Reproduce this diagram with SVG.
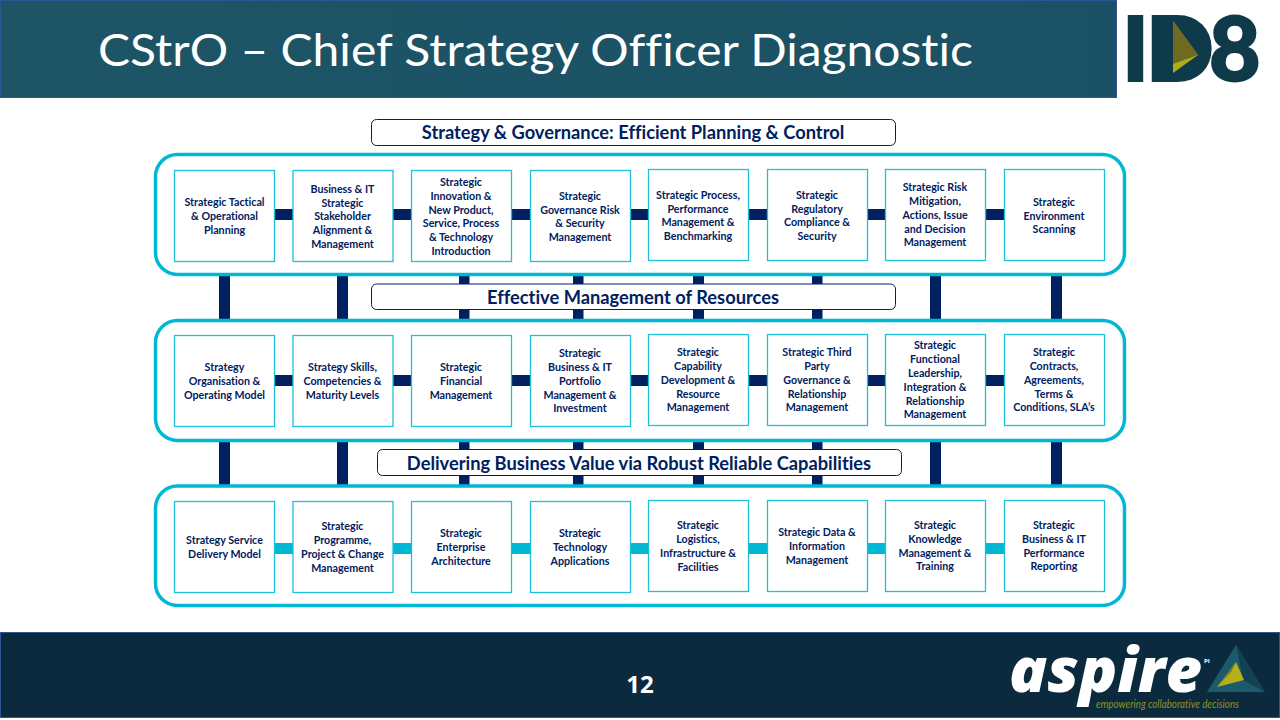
<svg xmlns="http://www.w3.org/2000/svg" width="1280" height="720" viewBox="0 0 1280 720">
<defs>
<linearGradient id="hd" x1="0" x2="1" y1="0" y2="0"><stop offset="0" stop-color="#1d5466"/><stop offset="1" stop-color="#1b5164"/></linearGradient>
</defs>
<style>
text{font-variant-ligatures:none}
.band{fill:#fff;stroke:#00b8d4;stroke-width:3.5}
.box{fill:#fff;stroke:#1fc0da;stroke-width:1.3;transform:translate(.5px,.5px)}
.cap{fill:#fff;stroke:#002060;stroke-width:1}
.t{font-family:"Lato","Liberation Sans",sans-serif;font-weight:700;font-size:10.7px;fill:#002060;text-anchor:middle}
.h{font-family:"Lato","Liberation Sans",sans-serif;font-weight:700;font-size:18.3px;fill:#002060;text-anchor:middle}
.v{fill:#002060}
.c{fill:#00b8d4}
</style>
<rect width="1280" height="720" fill="#fff"/>
<g id="header">
<rect x="0.5" y="0.5" width="1116" height="97" fill="url(#hd)" stroke="#2f5597"/>
<text x="98" y="66" font-family="Lato,'Open Sans',sans-serif" font-size="45" fill="#fff" textLength="875" lengthAdjust="spacingAndGlyphs">CStrO – Chief Strategy Officer Diagnostic</text>
</g>
<g id="logo-id8">
<text y="80.500" font-family="Lato,'Liberation Sans',sans-serif" font-weight="900" font-size="89" fill="#0f3a4a" stroke="#0f3a4a" stroke-width="2" x="1122 1146 1209">ID8</text>
<path d="M1165 22H1185Q1206 32 1206 50Q1206 70 1185 78H1165Z" fill="#0f3a4a"/>
<polygon points="1173,21 1198,55 1173,73" fill="#adad16"/>
<polygon points="1173,21 1198,55 1173,64" fill="#6f6a22"/>
</g>
<g id="connectors">
<rect class="v" x="219" y="274" width="11" height="46"/><rect class="v" x="337" y="274" width="11" height="46"/><rect class="v" x="459" y="274" width="10.500" height="46"/><rect class="v" x="573" y="274" width="10.500" height="46"/><rect class="v" x="693" y="274" width="11" height="46"/><rect class="v" x="812" y="274" width="10.500" height="46"/><rect class="v" x="930" y="274" width="11" height="46"/><rect class="v" x="1051" y="274" width="11" height="46"/>
<rect class="v" x="219" y="440" width="11" height="46"/><rect class="v" x="337" y="440" width="11" height="46"/><rect class="v" x="459" y="440" width="10.500" height="46"/><rect class="v" x="573" y="440" width="10.500" height="46"/><rect class="v" x="693" y="440" width="11" height="46"/><rect class="v" x="812" y="440" width="10.500" height="46"/><rect class="v" x="930" y="440" width="11" height="46"/><rect class="v" x="1051" y="440" width="11" height="46"/>
</g>
<g id="band-1"><rect class="band" x="155.500" y="154.500" width="969" height="120" rx="22"/></g>
<g id="band-2"><rect class="band" x="155.500" y="320.500" width="969" height="120" rx="22"/></g>
<g id="band-3"><rect class="band" x="155.500" y="486" width="969" height="119.500" rx="22"/></g>
<g id="links">
<rect class="v" x="274" y="209" width="19" height="11"/><rect class="v" x="393" y="209" width="18" height="11"/><rect class="v" x="511" y="209" width="19" height="11"/><rect class="v" x="630" y="209" width="18" height="11"/><rect class="v" x="748" y="209" width="19" height="11"/><rect class="v" x="867" y="209" width="18" height="11"/><rect class="v" x="985" y="209" width="19" height="11"/>
<rect class="v" x="274" y="375" width="19" height="11"/><rect class="v" x="393" y="375" width="18" height="11"/><rect class="v" x="511" y="375" width="19" height="11"/><rect class="v" x="630" y="375" width="18" height="11"/><rect class="v" x="748" y="375" width="19" height="11"/><rect class="v" x="867" y="375" width="18" height="11"/><rect class="v" x="985" y="375" width="19" height="11"/>
<rect class="c" x="274" y="543" width="19" height="11"/><rect class="c" x="393" y="543" width="18" height="11"/><rect class="c" x="511" y="543" width="19" height="11"/><rect class="c" x="630" y="543" width="18" height="11"/><rect class="c" x="748" y="543" width="19" height="11"/><rect class="c" x="867" y="543" width="18" height="11"/><rect class="c" x="985" y="543" width="19" height="11"/>
</g>
<g id="cap-1"><rect class="cap" x="371.500" y="119.500" width="524" height="26" rx="5"/><text class="h" x="633" y="139">Strategy &amp; Governance: Efficient Planning &amp; Control</text></g>
<g id="cap-2"><rect class="cap" x="371.500" y="284" width="524" height="25.500" rx="5"/><text class="h" x="633" y="303.500">Effective Management of Resources</text></g>
<g id="cap-3"><rect class="cap" x="377.500" y="449.500" width="524" height="26" rx="5"/><text class="h" x="639" y="469.500">Delivering Business Value via Robust Reliable Capabilities</text></g>

<g id="n1-1"><rect class="box" x="174" y="170" width="100" height="91"/><text class="t" x="224.500" y="206">Strategic Tactical</text><text class="t" x="224.500" y="220">&amp; Operational</text><text class="t" x="224.500" y="233.500">Planning</text></g>
<g id="n1-2"><rect class="box" x="292.500" y="170" width="100" height="91"/><text class="t" x="342.500" y="192.500">Business &amp; IT</text><text class="t" x="342.500" y="206.500">Strategic</text><text class="t" x="342.500" y="220">Stakeholder</text><text class="t" x="342.500" y="233.500">Alignment &amp;</text><text class="t" x="342.500" y="247.500">Management</text></g>
<g id="n1-3"><rect class="box" x="411" y="170" width="100" height="91"/><text class="t" x="461" y="185.500">Strategic</text><text class="t" x="461" y="199.500">Innovation &amp;</text><text class="t" x="461" y="213.500">New Product,</text><text class="t" x="461" y="227">Service, Process</text><text class="t" x="461" y="240.500">&amp; Technology</text><text class="t" x="461" y="254.500">Introduction</text></g>
<g id="n1-4"><rect class="box" x="530" y="170" width="100" height="91"/><text class="t" x="580" y="199.500">Strategic</text><text class="t" x="580" y="213.500">Governance Risk</text><text class="t" x="580" y="227">&amp; Security</text><text class="t" x="580" y="240.500">Management</text></g>
<g id="n1-5"><rect class="box" x="648" y="169" width="100" height="91"/><text class="t" x="698" y="198.500">Strategic Process,</text><text class="t" x="698" y="212.500">Performance</text><text class="t" x="698" y="226">Management &amp;</text><text class="t" x="698" y="239.500">Benchmarking</text></g>
<g id="n1-6"><rect class="box" x="767" y="169" width="100" height="91"/><text class="t" x="817" y="198.500">Strategic</text><text class="t" x="817" y="212.500">Regulatory</text><text class="t" x="817" y="226">Compliance &amp;</text><text class="t" x="817" y="239.500">Security</text></g>
<g id="n1-7"><rect class="box" x="885" y="169" width="100" height="91"/><text class="t" x="935" y="191">Strategic Risk</text><text class="t" x="935" y="205">Mitigation,</text><text class="t" x="935" y="219">Actions, Issue</text><text class="t" x="935" y="232.500">and Decision</text><text class="t" x="935" y="246">Management</text></g>
<g id="n1-8"><rect class="box" x="1004" y="169" width="100" height="91"/><text class="t" x="1054" y="205.500">Strategic</text><text class="t" x="1054" y="219.500">Environment</text><text class="t" x="1054" y="233">Scanning</text></g>

<g id="n2-1"><rect class="box" x="174" y="335" width="100" height="91"/><text class="t" x="224.500" y="371">Strategy</text><text class="t" x="224.500" y="385">Organisation &amp;</text><text class="t" x="224.500" y="398.500">Operating Model</text></g>
<g id="n2-2"><rect class="box" x="292.500" y="335" width="100" height="91"/><text class="t" x="342.500" y="371">Strategy Skills,</text><text class="t" x="342.500" y="385">Competencies &amp;</text><text class="t" x="342.500" y="398.500">Maturity Levels</text></g>
<g id="n2-3"><rect class="box" x="411" y="335" width="100" height="91"/><text class="t" x="461" y="371">Strategic</text><text class="t" x="461" y="385">Financial</text><text class="t" x="461" y="398.500">Management</text></g>
<g id="n2-4"><rect class="box" x="530" y="335" width="100" height="91"/><text class="t" x="580" y="357">Strategic</text><text class="t" x="580" y="371">Business &amp; IT</text><text class="t" x="580" y="385">Portfolio</text><text class="t" x="580" y="398.500">Management &amp;</text><text class="t" x="580" y="412">Investment</text></g>
<g id="n2-5"><rect class="box" x="648" y="334" width="100" height="91"/><text class="t" x="698" y="356">Strategic</text><text class="t" x="698" y="370">Capability</text><text class="t" x="698" y="384">Development &amp;</text><text class="t" x="698" y="397.500">Resource</text><text class="t" x="698" y="411">Management</text></g>
<g id="n2-6"><rect class="box" x="767" y="334" width="100" height="91"/><text class="t" x="817" y="356">Strategic Third</text><text class="t" x="817" y="370">Party</text><text class="t" x="817" y="384">Governance &amp;</text><text class="t" x="817" y="397.500">Relationship</text><text class="t" x="817" y="411">Management</text></g>
<g id="n2-7"><rect class="box" x="885" y="334" width="100" height="91"/><text class="t" x="935" y="349">Strategic</text><text class="t" x="935" y="363">Functional</text><text class="t" x="935" y="377">Leadership,</text><text class="t" x="935" y="391">Integration &amp;</text><text class="t" x="935" y="404.500">Relationship</text><text class="t" x="935" y="418">Management</text></g>
<g id="n2-8"><rect class="box" x="1004" y="334" width="100" height="91"/><text class="t" x="1054" y="356">Strategic</text><text class="t" x="1054" y="370">Contracts,</text><text class="t" x="1054" y="384">Agreements,</text><text class="t" x="1054" y="397.500">Terms &amp;</text><text class="t" x="1054" y="411">Conditions, SLA’s</text></g>

<g id="n3-1"><rect class="box" x="174" y="501" width="100" height="91"/><text class="t" x="224.500" y="544">Strategy Service</text><text class="t" x="224.500" y="558">Delivery Model</text></g>
<g id="n3-2"><rect class="box" x="292.500" y="501" width="100" height="91"/><text class="t" x="342.500" y="530">Strategic</text><text class="t" x="342.500" y="544">Programme,</text><text class="t" x="342.500" y="558">Project &amp; Change</text><text class="t" x="342.500" y="571.500">Management</text></g>
<g id="n3-3"><rect class="box" x="411" y="501" width="100" height="91"/><text class="t" x="461" y="537">Strategic</text><text class="t" x="461" y="551">Enterprise</text><text class="t" x="461" y="564.500">Architecture</text></g>
<g id="n3-4"><rect class="box" x="530" y="501" width="100" height="91"/><text class="t" x="580" y="537">Strategic</text><text class="t" x="580" y="551">Technology</text><text class="t" x="580" y="564.500">Applications</text></g>
<g id="n3-5"><rect class="box" x="648" y="500" width="100" height="91"/><text class="t" x="698" y="529">Strategic</text><text class="t" x="698" y="543">Logistics,</text><text class="t" x="698" y="557">Infrastructure &amp;</text><text class="t" x="698" y="570.500">Facilities</text></g>
<g id="n3-6"><rect class="box" x="767" y="500" width="100" height="91"/><text class="t" x="817" y="536">Strategic Data &amp;</text><text class="t" x="817" y="550">Information</text><text class="t" x="817" y="563.500">Management</text></g>
<g id="n3-7"><rect class="box" x="885" y="500" width="100" height="91"/><text class="t" x="935" y="529">Strategic</text><text class="t" x="935" y="543">Knowledge</text><text class="t" x="935" y="557">Management &amp;</text><text class="t" x="935" y="570">Training</text></g>
<g id="n3-8"><rect class="box" x="1004" y="500" width="100" height="91"/><text class="t" x="1054" y="529">Strategic</text><text class="t" x="1054" y="543">Business &amp; IT</text><text class="t" x="1054" y="556.500">Performance</text><text class="t" x="1054" y="570">Reporting</text></g>

<g id="footer">
<rect x="0.500" y="632.500" width="1279" height="85" fill="#0b2a3d" stroke="#2f5597"/>
<text x="640" y="692.500" font-family="'Open Sans',sans-serif" font-weight="700" font-size="24" fill="#fff" text-anchor="middle">12</text>
</g>
<g id="logo-aspire">
<text x="1009" y="692" font-family="'Open Sans',sans-serif" font-weight="800" font-style="italic" font-size="62" fill="#fff" textLength="193" lengthAdjust="spacingAndGlyphs">aspire</text>
<text x="1204" y="663" font-family="'Open Sans',sans-serif" font-weight="700" font-size="6" fill="#fff">PI</text>
<polygon points="1236,645 1265,692 1207,692" fill="#1b5a6c"/>
<polygon points="1236,645 1243,680 1265,692" fill="#124152"/>
<polygon points="1236,662 1244,680 1217,687" fill="#b5b019"/>
<polygon points="1236,662 1231,672 1217,687" fill="#7a7424"/>
<text x="1096" y="708" font-family="Lato,sans-serif" font-style="italic" font-size="11.5" fill="#8f9420" textLength="143" lengthAdjust="spacingAndGlyphs">empowering collaborative decisions</text>
</g>
</svg>
